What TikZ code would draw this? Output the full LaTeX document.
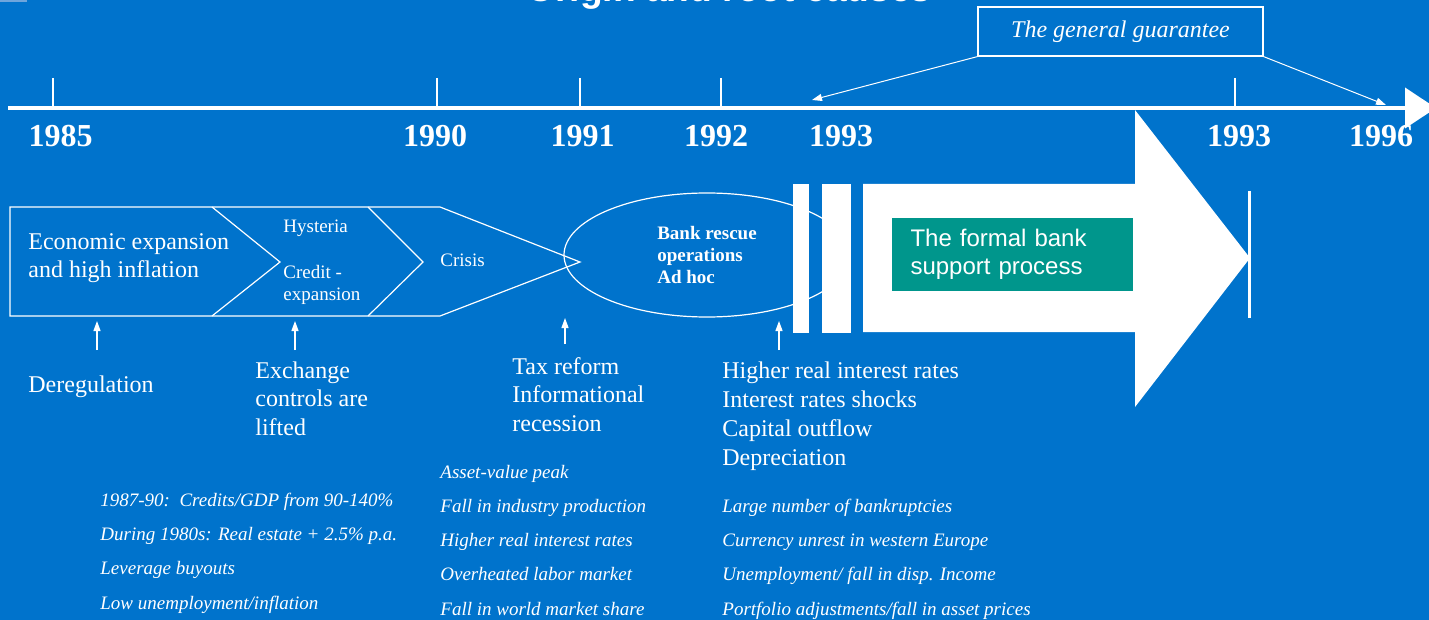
\documentclass[tikz,border=0pt]{standalone}
\usepackage{fontspec}
\setmainfont{Liberation Serif}
\newfontfamily\sansfont{Liberation Sans}
\usetikzlibrary{arrows.meta,shapes.geometric}

\definecolor{slideblue}{RGB}{0,115,204}
\definecolor{supportteal}{RGB}{0,150,140}
\definecolor{cornerblue}{RGB}{110,165,220}

\tikzset{
  thinline/.style={white,line width=0.6pt},
  upar/.style={white,line width=0.6pt,-{Triangle[length=5pt,width=3.5pt]}},
  guarar/.style={white,line width=0.5pt,-{Triangle[length=5pt,width=3.5pt]}},
  yearlbl/.style={text=white,font=\bfseries\fontsize{16}{16}\selectfont,anchor=base,inner sep=0pt},
  plaintxt/.style={text=white,font=\fontsize{12}{14.25}\selectfont,align=left,anchor=base west,inner sep=0pt},
  smalltxt/.style={text=white,font=\fontsize{9.5}{11}\selectfont,align=left,anchor=base west,inner sep=0pt},
  listtxt/.style={text=white,font=\itshape\fontsize{9.5}{17.1}\selectfont,align=left,anchor=base west,inner sep=0pt}
}

\begin{document}
\begin{tikzpicture}[x=0.5pt,y=-0.5pt]

    % --- Background ---
    \useasboundingbox (0,0) rectangle (1429,620);
    \clip (0,0) rectangle (1429,620);
    \fill[slideblue] (0,0) rectangle (1429,620);
    \fill[cornerblue] (0,0) rectangle (27,2);

    % Title, cut at the top edge
    \node[text=white,font=\sansfont\bfseries\fontsize{18.6}{18.6}\selectfont,anchor=base,inner sep=0pt] (title) at (729,2) {Origin and root causes};

    % --- Timeline ---
    \coordinate (TL0) at (8,108);
    \coordinate (TL1) at (1436,108);
    \draw[white,line width=2pt,-{Triangle[length=15.5pt,width=20pt]}] (TL0) -- (TL1);

    % Year ticks
    \draw[thinline] (53,78) -- (53,107) (437,78) -- (437,107) (580,78) -- (580,107)
                    (721,78) -- (721,107) (1235,78) -- (1235,107);

    % Year labels
    \node[yearlbl] (y85) at (60.5,147) {1985};
    \node[yearlbl] (y90) at (435,147) {1990};
    \node[yearlbl] (y91) at (582.5,147) {1991};
    \node[yearlbl] (y92) at (716,147) {1992};
    \node[yearlbl] (y93) at (841,147) {1993};
    \node[yearlbl] (y93b) at (1239,147) {1993};
    \node[yearlbl] (y96) at (1381,147) {1996};

    % --- The general guarantee ---
    \node[draw=white,line width=0.6pt,minimum width=142.5pt,minimum height=24.5pt,inner sep=0pt,
          text=white,font=\itshape\fontsize{12}{12}\selectfont] (guarantee) at (1120.5,31.5) {The general guarantee};
    \coordinate (G0) at (812,100);
    \coordinate (G1) at (1386,105);
    \draw[guarar] (guarantee.south west) -- (G0);
    \draw[guarar] (guarantee.south east) -- (G1);

    % --- Chevrons ---
    \coordinate (C0) at (10,207);
    \coordinate (C1) at (440,207);
    \coordinate (C2) at (580,262);
    \coordinate (C3) at (440,316);
    \coordinate (C4) at (10,316);
    \draw[thinline] (C0) -- (C1) -- (C2) -- (C3) -- (C4) -- cycle;
    \draw[thinline] (212,207) -- (280,262) -- (212,316);
    \draw[thinline] (368,207) -- (423,262) -- (368,316);

    % Bank rescue ellipse
    \node[ellipse,draw=white,line width=0.6pt,minimum width=143pt,minimum height=62pt,inner sep=0pt,
          text=white,font=\bfseries\fontsize{9.5}{11}\selectfont,align=left] (rescue) at (707,255)
          {Bank rescue\\operations\\Ad hoc};

    % --- White bars and big arrow ---
    \fill[white] (793,184) rectangle (809,333);
    \fill[white] (822,184) rectangle (851,333);
    \fill[white] (863,184) -- (1135,184) -- (1135,110) -- (1250,258) -- (1135,407)
                 -- (1135,332) -- (863,332) -- cycle;
    \node[fill=supportteal,minimum width=120.5pt,minimum height=36.5pt,inner xsep=9pt,
          text width=102pt,align=left,text=white,font=\sansfont\fontsize{12}{14}\selectfont] (support)
          at (1012.5,254.5) {The formal bank\\support process};
    \draw[white,line width=1.5pt] (1249,191) -- (1249,318);

    % --- Upward arrows ---
    \coordinate (A1) at (97,350);
    \coordinate (A2) at (295,350);
    \coordinate (A3) at (565,344);
    \coordinate (A4) at (779,350);
    \draw[upar] (A1) -- (97,321);
    \draw[upar] (A2) -- (295,321);
    \draw[upar] (A3) -- (565,318);
    \draw[upar] (A4) -- (779,321);

    % --- Labels ---
    % (base of a multi-line label = baseline of its last line)
    \node[plaintxt,font=\fontsize{12}{14}\selectfont] (econ) at (28,278) {Economic expansion\\and high inflation};
    \node[smalltxt] (hyst) at (283,233) {Hysteria};
    \node[smalltxt] (credit) at (283,300) {Credit -\\expansion};
    \node[smalltxt] (crisis) at (440,267) {Crisis};

    \node[plaintxt] (dereg) at (28,392) {Deregulation};
    \node[plaintxt] (exch) at (255,435) {Exchange\\controls are\\lifted};
    \node[plaintxt] (tax) at (512,431) {Tax reform\\Informational\\recession};
    \node[plaintxt,font=\fontsize{12}{14.5}\selectfont] (rates) at (722,465)
          {Higher real interest rates\\Interest rates shocks\\Capital outflow\\Depreciation};

    \node[listtxt] (list85) at (100,609) {1987-90:\ \ Credits/GDP from 90-140\%\\During 1980s: Real estate + 2.5\% p.a.\\Leverage buyouts\\Low unemployment/inflation};
    \node[listtxt] (list90) at (440,615) {Asset-value peak\\Fall in industry production\\Higher real interest rates\\Overheated labor market\\Fall in world market share};
    \node[listtxt] (list92) at (722,615) {Large number of bankruptcies\\Currency unrest in western Europe\\Unemployment/ fall in disp. Income\\Portfolio adjustments/fall in asset prices};

\end{tikzpicture}
\end{document}
